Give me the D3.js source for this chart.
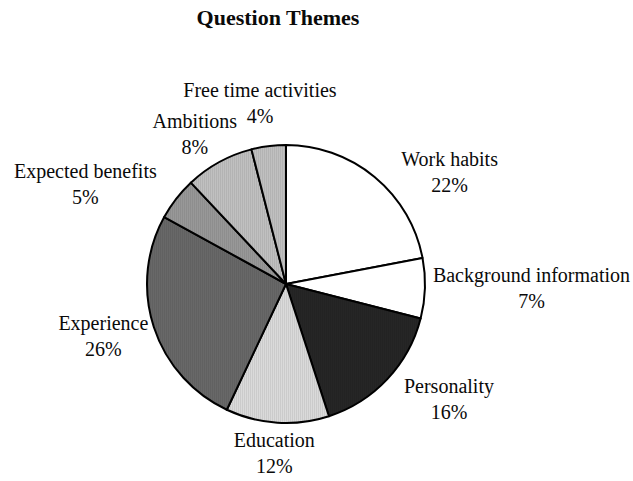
<!DOCTYPE html>
<html>
<head>
<meta charset="utf-8">
<script src="https://cdn.jsdelivr.net/npm/d3@7"></script>
<style>
  body { margin: 0; background: #fff; }
  text { font-family: "Liberation Serif", "Times New Roman", serif; fill: #0a0a0a; }
</style>
</head>
<body>
<div id="chart"></div>
<script>
var width = 633, height = 481,
    cx = 286, cy = 284, radius = 139;

var themes = ["Work habits", "Background information", "Personality", "Education",
              "Experience", "Expected benefits", "Ambitions", "Free time activities"];
var shares = [22, 7, 16, 12, 26, 5, 8, 4];
var fills = ["#ffffff", "#ffffff", "#262626", "#dadada", "#686868", "#989898", "#c0c0c0", "#c0c0c0"];

// small hand nudges so labels land where the original put them
var nudge = {
  "Work habits": [39, 20],
  "Personality": [23, 0],
  "Expected benefits": [-28, 5],
  "Free time activities": [2, -11]
};

var svg = d3.select("#chart").append("svg")
    .attr("width", width)
    .attr("height", height);

// faint vertical stripes like the scanned original
var defs = svg.append("defs");
fills.forEach(function(c, i) {
  var p = defs.append("pattern")
      .attr("id", "fill" + i)
      .attr("patternUnits", "userSpaceOnUse")
      .attr("width", 2).attr("height", 4);
  p.append("rect").attr("width", 2).attr("height", 4).attr("fill", c);
  if (c != "#ffffff") {
    p.append("rect").attr("width", 1).attr("height", 4)
      .attr("fill", d3.color(c).darker(0.2));
  }
});

svg.append("text")
    .attr("x", 278).attr("y", 25)
    .attr("text-anchor", "middle")
    .style("font-size", "22px")
    .style("font-weight", "bold")
    .text("Question Themes");

var pie = d3.pie().sort(null).value(function(d) { return d; });
var arc = d3.arc().innerRadius(0).outerRadius(radius);

var g = svg.append("g").attr("transform", "translate(" + cx + "," + cy + ")");

var arcs = pie(shares);

g.selectAll("path.slice")
  .data(arcs)
  .enter().append("path")
    .attr("class", "slice")
    .attr("d", arc)
    .attr("fill", function(d, i) { return "url(#fill" + i + ")"; })
    .attr("stroke", "#000")
    .attr("stroke-width", 2)
    .attr("stroke-linejoin", "round");

// labels, Excel style: block sits just outside the rim along the mid angle
var lineGap = 26, blockH = 46;
arcs.forEach(function(d, i) {
  var a = (d.startAngle + d.endAngle) / 2,
      s = Math.sin(a), c = -Math.cos(a),
      r = radius + 8;
  var t = g.append("text")
      .attr("text-anchor", "middle")
      .style("font-size", "20px");
  t.append("tspan").attr("x", 0).attr("dy", 0).text(themes[i]);
  t.append("tspan").attr("x", 0).attr("dy", lineGap).text(shares[i] + "%");
  var w = t.node().getBBox().width;
  var n = nudge[themes[i]] || [0, 0];
  var bx = r * s + s * w / 2 + n[0],
      by = r * c + c * blockH / 2 + n[1];
  t.attr("transform", "translate(" + bx + "," + (by - 7) + ")");
});
</script>
</body>
</html>
